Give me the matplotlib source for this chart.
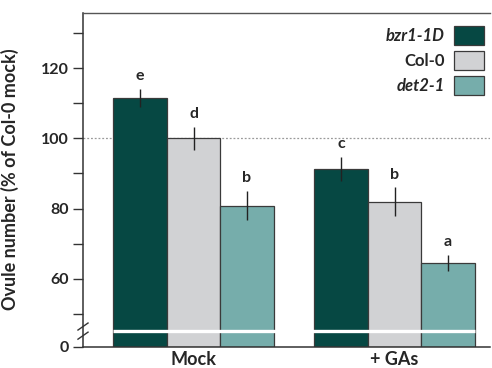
import matplotlib
matplotlib.use("Agg")
import matplotlib.pyplot as plt
from matplotlib.patches import Patch
import numpy as np

plt.rcParams['font.family'] = ['Lato', 'DejaVu Sans']
plt.rcParams['font.weight'] = 'bold'

groups = ["Mock", "+ GAs"]
genotypes = ["bzr1-1D", "Col-0", "det2-1"]
values = {
    "bzr1-1D": [111.5, 91.3],
    "Col-0": [100.0, 82.0],
    "det2-1": [80.8, 64.5],
}
errors = {
    "bzr1-1D": [2.6, 3.4],
    "Col-0": [3.3, 4.1],
    "det2-1": [4.2, 2.3],
}
letters = {
    "bzr1-1D": ["e", "c"],
    "Col-0": ["d", "b"],
    "det2-1": ["b", "a"],
}
colors = {"bzr1-1D": "#064843", "Col-0": "#D1D2D4", "det2-1": "#76ADAB"}
italic = {"bzr1-1D": True, "Col-0": False, "det2-1": True}

ytick_vals = [60, 80, 100, 120]
ybottom = 40.57   # axis displayed as "0" (broken axis)
ytop = 135.7
break_val = 45.1

txtc = "#262626"
fig = plt.figure(figsize=(4.92, 3.68), dpi=100)
ax = fig.add_axes([83/492, 1-347/368, (490-83)/492, (347-13)/368])

w = 0.266
x = np.arange(len(groups))
for i, g in enumerate(genotypes):
    xs = x + (i - 1) * w
    bottoms = [ybottom] * len(groups)
    heights = [v - ybottom for v in values[g]]
    ax.bar(xs, heights, w, bottom=bottoms, color=colors[g], edgecolor="#3a3a3a",
           linewidth=0.9, zorder=2, label=g)
    ax.errorbar(xs, values[g], yerr=errors[g], fmt="none", ecolor="#222222",
                elinewidth=1.0, capsize=0, zorder=3)
    for xi, v, e, L in zip(xs, values[g], errors[g], letters[g]):
        ax.text(xi, v + e + 1.6, L, ha="center", va="bottom", fontsize=11.5,
                fontweight="bold", color=txtc, zorder=4)

# white break stripe across bars
ax.plot([x[0] - 1.5 * w, x[-1] + 1.5 * w], [break_val, break_val], color="white",
        lw=2.4, zorder=5, solid_capstyle="butt")

# reference line at 100
ax.axhline(100, color="#9a9a9a", lw=0.9, ls=(0, (1.5, 1.5)), zorder=1)

ax.set_xlim(-0.55, 1.475)
ax.set_ylim(ybottom, ytop)

ax.set_yticks([ybottom] + ytick_vals)
ax.set_yticklabels(["0"] + [str(v) for v in ytick_vals])
ax.set_yticks([50, 70, 90, 110, 130], minor=True)
ax.tick_params(axis="y", which="both", length=7, width=1.0, color="#333333",
               labelsize=11.5, labelcolor=txtc, pad=3)
ax.set_xticks(x)
ax.set_xticklabels(groups)
ax.tick_params(axis="x", length=0, labelsize=13, labelcolor=txtc, pad=3)
for lab in ax.get_xticklabels() + ax.get_yticklabels():
    lab.set_fontweight("bold")

ax.spines["right"].set_visible(False)
for s in ["left", "bottom"]:
    ax.spines[s].set_color("#333333")
    ax.spines[s].set_linewidth(1.1)
ax.spines["top"].set_color("#555555")
ax.spines["top"].set_linewidth(1.0)

ax.set_ylabel("Ovule number (% of Col-0 mock)", fontsize=13, fontweight="bold",
              color=txtc)
ax.yaxis.set_label_coords((19 - 83) / 407, (347 - 179) / 334)

# break marks on the y axis
for off in [-1.3, 1.3]:
    yv = break_val + off
    ax.plot([-0.575, -0.525], [yv - 1.0, yv + 1.0], color="#333333", lw=1.0,
            clip_on=False, zorder=6)

handles = [Patch(facecolor=colors[g], edgecolor="#3a3a3a", linewidth=0.9) for g in genotypes]
leg = ax.legend(handles, genotypes, loc="upper right", markerfirst=False,
                frameon=False, fontsize=12, handlelength=1.8, handleheight=1.35,
                labelspacing=0.38, handletextpad=0.55, borderaxespad=0, borderpad=0,
                bbox_to_anchor=(484/492, 1-26/368), bbox_transform=fig.transFigure)
for t, g in zip(leg.get_texts(), genotypes):
    t.set_fontweight("bold")
    t.set_color(txtc)
    if italic[g]:
        t.set_fontstyle("italic")

fig.savefig("out.png", dpi=100)
